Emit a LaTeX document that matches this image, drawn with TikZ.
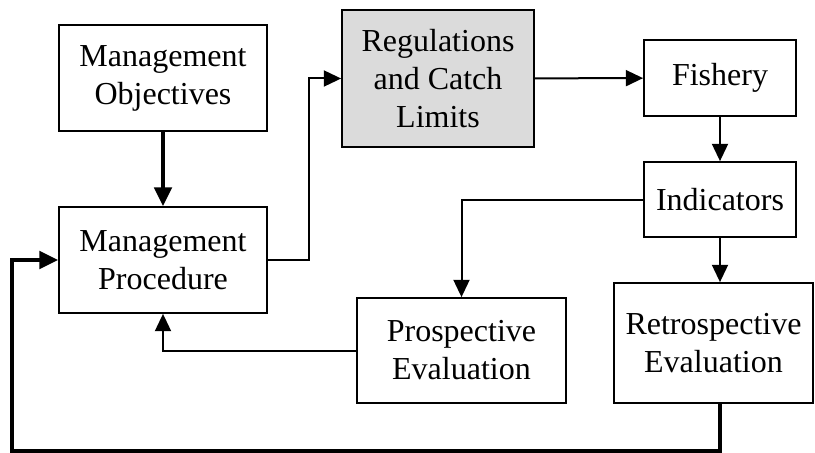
\documentclass[tikz,border=0pt]{standalone}
\usepackage{fontspec}
\setmainfont{Liberation Serif}
\usetikzlibrary{arrows.meta}
\tikzstyle{box}=[rectangle, draw, line width=1.3pt, align=center, inner sep=0pt, font=\fontsize{24}{28.5}\selectfont]
\tikzstyle{rules}=[fill=black!14]
\tikzstyle{flow}=[line width=1.5pt, -{Triangle[length=13pt,width=12pt]}]
\tikzstyle{feedback}=[line width=2.9pt, -{Triangle[length=14pt,width=13pt]}]

\begin{document}
\begin{tikzpicture}[x=0.75pt, y=-0.75pt]
\useasboundingbox (0,0) rectangle (815,453);
\draw (163,78) node[box, minimum width=156pt, minimum height=79.5pt] (obj) {Management\\Objectives};
\draw (163,260) node[box, minimum width=156pt, minimum height=79.5pt] (proc) {Management\\Procedure};
\draw (438,78.5) node[box, rules, minimum width=144pt, minimum height=102.75pt] (regs) {Regulations\\and Catch\\Limits};
\draw (720,78) node[box, minimum width=114pt, minimum height=57pt] (fish) {Fishery};
\draw (720,199.5) node[box, minimum width=114pt, minimum height=56.25pt] (ind) {Indicators};
\draw (461.5,350.5) node[box, minimum width=156.75pt, minimum height=78.75pt] (prosp) {Prospective\\Evaluation};
\draw (713.5,343) node[box, minimum width=149.25pt, minimum height=90pt] (retro) {Retrospective\\Evaluation};
\coordinate (loop) at (12,451);

\draw[feedback] (obj) -- (proc);
\draw[flow] (proc.east) -- ++(41,0) |- (regs.west);
\draw[flow] (regs) -- (fish);
\draw[flow] (fish) -- (ind);
\draw[flow] (ind.west) -| (prosp.north);
\draw[flow] (ind.south) -- (ind.south |- retro.north);
\draw[flow] (prosp.west) -| (proc.south);
\draw[feedback] (retro.south -| ind.south) |- (loop) |- (proc.west);
\end{tikzpicture}
\end{document}
